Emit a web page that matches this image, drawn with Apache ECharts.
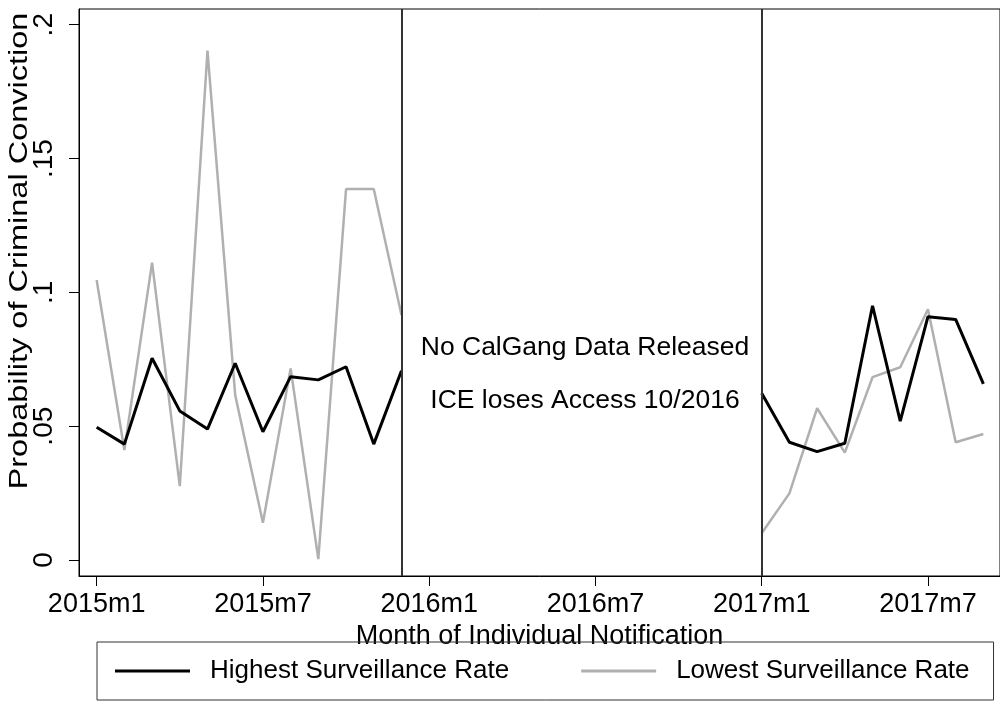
<!DOCTYPE html>
<html>
<head>
<meta charset="utf-8">
<script src="https://cdn.jsdelivr.net/npm/echarts@6/dist/echarts.min.js"></script>
<style>html,body{margin:0;padding:0;background:#fff}#c{width:1000px;height:710px}</style>
</head>
<body>
<div id="c"></div>
<script>
// Months with data (no data released during 2016)
const months = ['2015m1','2015m2','2015m3','2015m4','2015m5','2015m6','2015m7','2015m8','2015m9','2015m10','2015m11','2015m12',
                '2017m1','2017m2','2017m3','2017m4','2017m5','2017m6','2017m7','2017m8','2017m9'];
const highest = [0.0496,0.0433,0.0754,0.0557,0.0489,0.0735,0.0479,0.0685,0.0673,0.0722,0.0433,0.0707,
                 0.0623,0.0440,0.0405,0.0436,0.0950,0.0519,0.0909,0.0899,0.0658];
const lowest  = [0.1046,0.0411,0.1111,0.0276,0.1903,0.0616,0.0139,0.0716,0.0003,0.1386,0.1386,0.0915,
                 0.0100,0.0249,0.0567,0.0401,0.0683,0.0720,0.0937,0.0440,0.0471];
const xTickLabels = ['2015m1','2015m7','2016m1','2016m7','2017m1','2017m7'];
const yTickValues = [0,0.05,0.1,0.15,0.2];
const yTickLabels = ['0','.05','.1','.15','.2'];
const vLines = ['2015m12','2017m1'];
const seriesNames = ['Highest Surveillance Rate','Lowest Surveillance Rate'];
const notes = ['No CalGang Data Released','ICE loses Access 10/2016'];

function idx(m){ const p = m.split('m'); return (parseInt(p[0])-2015)*12 + parseInt(p[1]) - 1; }
function build(vals){
  const out = []; let prev = null;
  months.forEach((m,i)=>{ const x = idx(m); if(prev!==null && x-prev>1){ out.push([(x+prev)/2, null]); } out.push([x, vals[i]]); prev = x; });
  return out;
}
const FONT = 'Liberation Sans';
const chart = echarts.init(document.getElementById('c'));
chart.setOption({
  animation:false,
  backgroundColor:'#fff',
  grid:{left:79, top:9, right:-3, bottom:134, show:true, borderColor:'#000', borderWidth:1},
  xAxis:{
    type:'value', min:-0.637, max:32.6,
    name:'Month of Individual Notification', nameLocation:'middle', nameGap:43,
    nameTextStyle:{fontFamily:FONT, fontSize:27, color:'#000'},
    axisLine:{show:true, onZero:false, lineStyle:{color:'#000', width:1}},
    axisTick:{show:true, length:10, lineStyle:{color:'#000'}, customValues: xTickLabels.map(idx)},
    axisLabel:{fontFamily:FONT, fontSize:27, color:'#000', margin:15, customValues: xTickLabels.map(idx),
      formatter:(v)=>{ const k = xTickLabels.map(idx).indexOf(Math.round(v)); return k>=0? xTickLabels[k] : ''; }},
    splitLine:{show:false}
  },
  yAxis:{
    type:'value', min:-0.00598, max:0.20587,
    axisLine:{show:true, onZero:false, lineStyle:{color:'#000', width:1}},
    axisTick:{show:true, length:10, lineStyle:{color:'#000'}, customValues: yTickValues},
    axisLabel:{fontFamily:FONT, fontSize:28, color:'#000', rotate:90, margin:21, customValues: yTickValues,
      formatter:(v)=>{ let k=-1; yTickValues.forEach((t,j)=>{ if(Math.abs(t-v)<1e-6) k=j; }); return k>=0? yTickLabels[k] : ''; }},
    splitLine:{show:false}
  },
  legend:{
    data:seriesNames, left:97, top:642, icon:'rect',
    padding:[16,24,16,18], itemGap:72, itemWidth:75, itemHeight:3,
    borderColor:'#333', borderWidth:1,
    textStyle:{fontFamily:FONT, fontSize:26, color:'#000', padding:[0,0,0,15]}
  },
  graphic:[
    {type:'text', x:20, y:251, rotation:Math.PI/2, scaleX:1.3,
      style:{text:'Probability of Criminal Conviction', fontFamily:FONT, fontSize:25, fill:'#000', align:'center', verticalAlign:'middle'}},
    {type:'text', x:585, y:348, style:{text:notes[0], fontFamily:FONT, fontSize:26.5, fill:'#000', align:'center', verticalAlign:'middle'}},
    {type:'text', x:585, y:401, style:{text:notes[1], fontFamily:FONT, fontSize:26.5, fill:'#000', align:'center', verticalAlign:'middle'}}
  ],
  series:[
    {name:seriesNames[0], type:'line', data:build(highest), symbol:'none', connectNulls:false,
      lineStyle:{color:'#000', width:3}, itemStyle:{color:'#000'}, z:3},
    {name:seriesNames[1], type:'line', data:build(lowest), symbol:'none', connectNulls:false,
      lineStyle:{color:'#b0b0b0', width:2.5}, itemStyle:{color:'#b0b0b0'}, z:2},
    {type:'line', data:[], silent:true,
      markLine:{symbol:'none', silent:true, label:{show:false}, lineStyle:{color:'#333', width:2, type:'solid'},
        data: vLines.map(m=>({xAxis: idx(m)}))}}
  ]
});
</script>
</body>
</html>
